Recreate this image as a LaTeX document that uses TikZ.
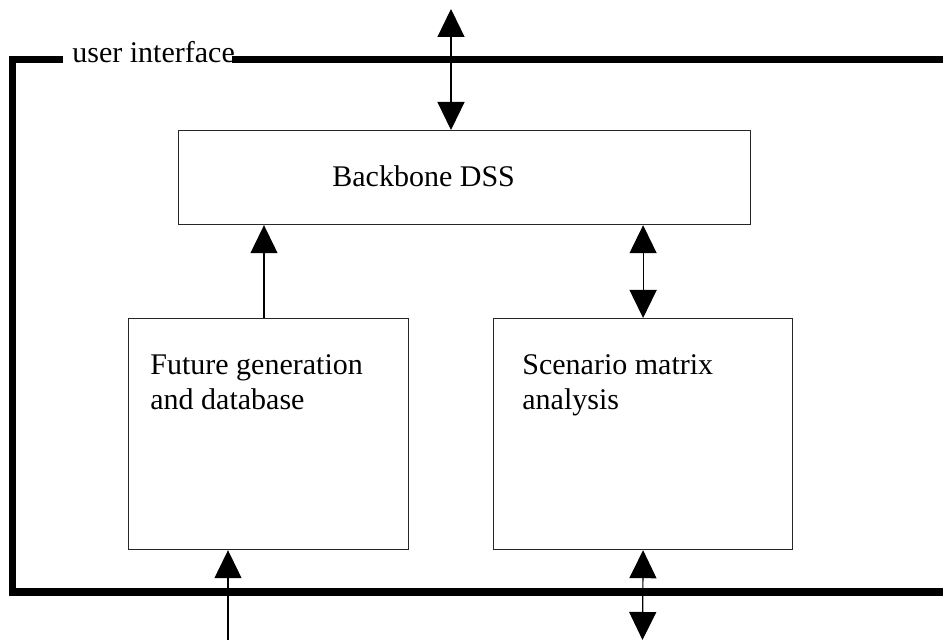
\documentclass[tikz,border=0pt]{standalone}
\usepackage{fontspec}
\setmainfont{Liberation Serif}
\usetikzlibrary{arrows.meta}
\begin{document}
\begin{tikzpicture}[x=0.5pt,y=-0.5pt,
  every node/.style={font=\fontsize{15pt}{17.5pt}\selectfont},
  boxnode/.style={draw=black!85, line width=0.6pt, minimum height=115.5pt, anchor=north west, inner sep=0pt},
  txt/.style={anchor=base west, inner sep=0pt},
  framepath/.style={line width=3.6pt, line join=miter, line cap=butt},
  conn/.style={line width=0.6pt},
  tri/.tip={Triangle[width=13.5pt,length=14pt]}
]
\useasboundingbox (0,0) rectangle (943,640);
% frame
\node[txt] (ui) at (72,63) {user interface};
\coordinate (uiL) at (63,59.5);
\coordinate (uiR) at (232,59.5);
\coordinate (fTL) at (12.5,59.5);
\coordinate (fBL) at (12.5,592);
\coordinate (fBR) at (960,592);
\coordinate (fTR) at (960,59.5);
\draw[framepath] (uiL) -- (fTL) -- (fBL) -- (fBR);
\draw[framepath] (uiR) -- (fTR);
% boxes
\node[boxnode, minimum width=286pt, minimum height=47pt] (bb) at (178,130) {};
\node[boxnode, minimum width=140pt] (fut) at (128,318) {};
\node[boxnode, minimum width=149.5pt] (scen) at (493,318) {};
% texts
\node[txt] (bbt) at (332,187) {Backbone DSS};
\node[txt] (futa) at (150,375) {Future generation};
\node[txt] (futb) at (150,410) {and database};
\node[txt] (scena) at (522,375) {Scenario matrix};
\node[txt] (scenb) at (522,410) {analysis};
% connectors
\coordinate (topend) at (451,9);
\draw[conn, tri-tri] (topend) -- (topend |- bb.north);
\coordinate (fa) at (264,318);
\draw[conn, -tri] (fa) -- (fa |- bb.south);
\draw[conn, tri-tri] (scen.north) -- (scen.north |- bb.south);
\coordinate (inL) at (228,645);
\draw[conn, -tri] (inL) -- (inL |- fut.south);
\coordinate (outR) at (642.5,640);
\draw[conn, tri-tri] (scen.south) -- (outR);
\end{tikzpicture}
\end{document}
